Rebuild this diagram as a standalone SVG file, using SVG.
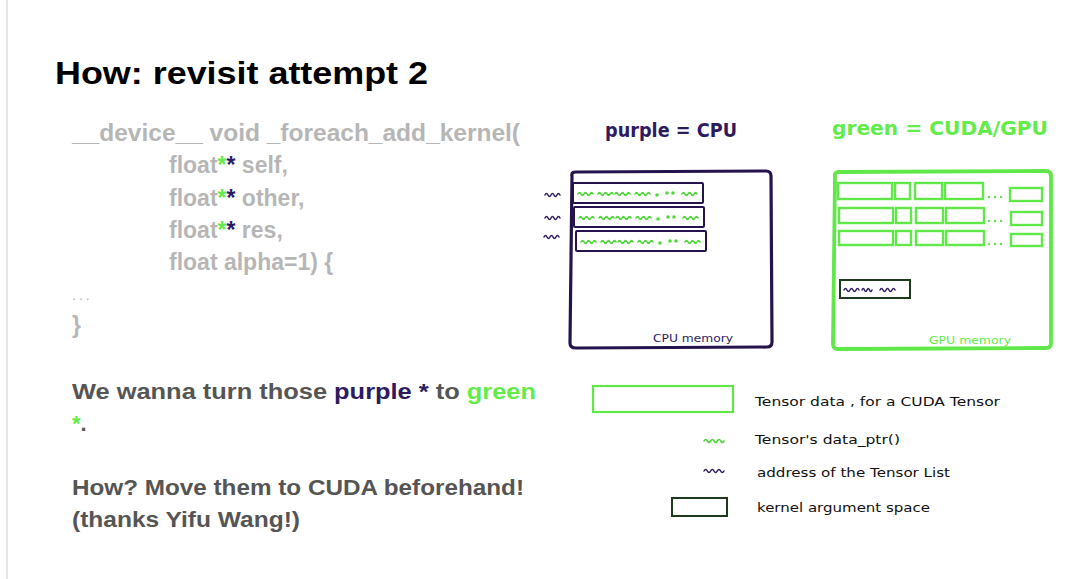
<svg xmlns="http://www.w3.org/2000/svg" xmlns:xlink="http://www.w3.org/1999/xlink" width="1080" height="579" viewBox="0 0 1080 579">
  <style>
    .title{font-family:"Liberation Sans",Arial,sans-serif;font-weight:bold;font-size:32px;fill:#000}
    .code{font-family:"Liberation Sans",Arial,sans-serif;font-weight:bold;font-size:23px;fill:#b6b6b6}
    .body{font-family:"Liberation Sans",Arial,sans-serif;font-weight:bold;font-size:22px;fill:#555}
    .pur{fill:#2d1b62}
    .grn{fill:#62ec4a}
    .hand{font-family:"DejaVu Sans","Liberation Sans",sans-serif}
    .hd{font-size:19px;font-weight:bold}
    .lg{font-size:13px;fill:#111}
    .mem{font-size:10px}
    .cpubox{fill:none;stroke:#24134d;stroke-width:3.2}
    .cpurow{fill:none;stroke:#24134d;stroke-width:2}
    .gpubox{fill:none;stroke:#5fe848;stroke-width:3.8}
    .gpurow{fill:none;stroke:#5fe848;stroke-width:2.4}
    .karg{fill:none;stroke:#1d3a1d;stroke-width:2}
    .sqg{fill:none;stroke:#4fd83a;stroke-width:1.6;stroke-linecap:round}
    .sqp{fill:none;stroke:#2d1b62;stroke-width:1.5;stroke-linecap:round}
    .dotg{fill:#4fd83a}
    .dotgg{fill:#5fe848}
  </style>
  <defs>
    <path id="sq15" d="M0 0 q1.5 -3 3 0 t3 0 t3 0 t3 0 t3 0"/>
    <path id="sq10" d="M0 0 q1.25 -3 2.5 0 t2.5 0 t2.5 0 t2.5 0"/>
    <path id="sq20" d="M0 0 q1.67 -3 3.33 0 t3.33 0 t3.33 0 t3.33 0 t3.33 0 t3.33 0"/>
    <g id="rowsq">
      <use xlink:href="#sq15" x="5" y="0"/>
      <use xlink:href="#sq15" x="25" y="0"/>
      <use xlink:href="#sq15" x="42" y="0"/>
      <use xlink:href="#sq15" x="62" y="0"/>
      <circle cx="84" cy="1" r="1"/>
      <circle cx="94" cy="-1" r="1"/>
      <circle cx="100" cy="-1" r="1"/>
      <use xlink:href="#sq15" x="109" y="0"/>
    </g>
  </defs>

  <rect x="0" y="0" width="1080" height="579" fill="#fff"/>
  <line x1="7" y1="0" x2="7" y2="579" stroke="#d4d4d4" stroke-width="1.2"/>

  <g id="title">
    <text class="title" x="55" y="84" textLength="373" lengthAdjust="spacingAndGlyphs">How: revisit attempt 2</text>
  </g>

  <g id="code">
    <text class="code" x="72" y="141" textLength="448" lengthAdjust="spacingAndGlyphs">__device__ void _foreach_add_kernel(</text>
    <text class="code" x="169" y="173">float<tspan class="grn">*</tspan><tspan class="pur">*</tspan> self,</text>
    <text class="code" x="169" y="206">float<tspan class="grn">*</tspan><tspan class="pur">*</tspan> other,</text>
    <text class="code" x="169" y="238">float<tspan class="grn">*</tspan><tspan class="pur">*</tspan> res,</text>
    <text class="code" x="169" y="270">float alpha=1) {</text>
    <text class="code" x="72" y="300" style="font-size:14px;font-weight:normal;letter-spacing:3px">...</text>
    <text class="code" x="72" y="333">}</text>
  </g>

  <g id="note">
    <text class="body" x="72" y="399" textLength="464" lengthAdjust="spacingAndGlyphs">We wanna turn those <tspan class="pur">purple *</tspan> to <tspan class="grn">green</tspan></text>
    <text class="body" x="72" y="431"><tspan class="grn">*</tspan>.</text>
    <text class="body" x="72" y="495" textLength="452" lengthAdjust="spacingAndGlyphs">How? Move them to CUDA beforehand!</text>
    <text class="body" x="72" y="527" textLength="228" lengthAdjust="spacingAndGlyphs">(thanks Yifu Wang!)</text>
  </g>

  <g id="cpu-label">
    <text class="hand hd pur" x="605" y="137" textLength="132" lengthAdjust="spacingAndGlyphs">purple = CPU</text>
  </g>
  <g id="gpu-label">
    <text class="hand hd grn" x="832" y="135" textLength="216" lengthAdjust="spacingAndGlyphs">green = CUDA/GPU</text>
  </g>

  <g id="cpu-memory">
    <path class="cpubox" d="M572 176 Q571 172 576 172 L766 171 Q771 171 771 176 L772 342 Q772 347 767 347 L576 348 Q570 348 570 343 Z"/>
    <rect class="cpurow" x="573" y="183" width="130" height="20" rx="1"/>
    <rect class="cpurow" x="574" y="207" width="130" height="20" rx="1"/>
    <rect class="cpurow" x="576" y="231" width="130" height="20" rx="1"/>
    <g class="sqg dotg">
      <use xlink:href="#rowsq" x="573" y="194"/>
      <use xlink:href="#rowsq" x="574" y="218"/>
      <use xlink:href="#rowsq" x="576" y="242"/>
    </g>
    <g class="sqp">
      <use xlink:href="#sq15" x="545" y="195"/>
      <use xlink:href="#sq15" x="545" y="218"/>
      <use xlink:href="#sq15" x="544" y="237"/>
    </g>
    <text class="hand mem pur" x="653" y="342" textLength="80" lengthAdjust="spacingAndGlyphs">CPU memory</text>
  </g>

  <g id="gpu-memory">
    <path class="gpubox" d="M835 176 Q834 172 839 172 L1046 171 Q1051 171 1051 176 L1051 343 Q1051 348 1046 348 L838 349 Q833 349 833 344 Z"/>
    <g class="gpurow">
      <rect x="838" y="183" width="54" height="16"/>
      <rect x="895" y="183" width="15" height="16"/>
      <rect x="915" y="183" width="27" height="16"/>
      <rect x="945" y="183" width="38" height="16"/>
      <rect x="1010" y="188" width="32" height="13"/>
      <rect x="839" y="208" width="54" height="15"/>
      <rect x="896" y="208" width="15" height="15"/>
      <rect x="916" y="208" width="27" height="15"/>
      <rect x="946" y="208" width="38" height="15"/>
      <rect x="1011" y="212" width="31" height="13"/>
      <rect x="839" y="231" width="54" height="14"/>
      <rect x="896" y="231" width="15" height="14"/>
      <rect x="916" y="231" width="27" height="14"/>
      <rect x="946" y="231" width="38" height="14"/>
      <rect x="1011" y="234" width="31" height="12"/>
    </g>
    <g class="dotgg">
      <circle cx="989" cy="197" r="1.2"/><circle cx="995" cy="197" r="1.2"/><circle cx="1001" cy="197" r="1.2"/>
      <circle cx="989" cy="221" r="1.2"/><circle cx="995" cy="221" r="1.2"/><circle cx="1001" cy="221" r="1.2"/>
      <circle cx="989" cy="244" r="1.2"/><circle cx="995" cy="244" r="1.2"/><circle cx="1001" cy="244" r="1.2"/>
    </g>
    <rect class="karg" x="840" y="280" width="70" height="18"/>
    <g class="sqp">
      <use xlink:href="#sq15" x="844" y="290"/>
      <use xlink:href="#sq10" x="862" y="290"/>
      <use xlink:href="#sq15" x="880" y="290"/>
    </g>
    <text class="hand mem grn" x="929" y="344" textLength="82" lengthAdjust="spacingAndGlyphs">GPU memory</text>
  </g>

  <g id="legend">
    <rect x="593" y="386" width="140" height="26" fill="none" stroke="#5fe848" stroke-width="2.2"/>
    <text class="hand lg" x="755" y="406" textLength="245" lengthAdjust="spacingAndGlyphs">Tensor data , for a CUDA Tensor</text>
    <use class="sqg" xlink:href="#sq20" x="704" y="441"/>
    <text class="hand lg" x="755" y="444" textLength="145" lengthAdjust="spacingAndGlyphs">Tensor's data_ptr()</text>
    <use class="sqp" xlink:href="#sq20" x="704" y="471"/>
    <text class="hand lg" x="757" y="477" textLength="193" lengthAdjust="spacingAndGlyphs">address of the Tensor List</text>
    <rect x="672" y="498" width="55" height="18" fill="none" stroke="#1d3a1d" stroke-width="2"/>
    <text class="hand lg" x="757" y="512" textLength="173" lengthAdjust="spacingAndGlyphs">kernel argument space</text>
  </g>

  <g id="connectors"/>
</svg>
